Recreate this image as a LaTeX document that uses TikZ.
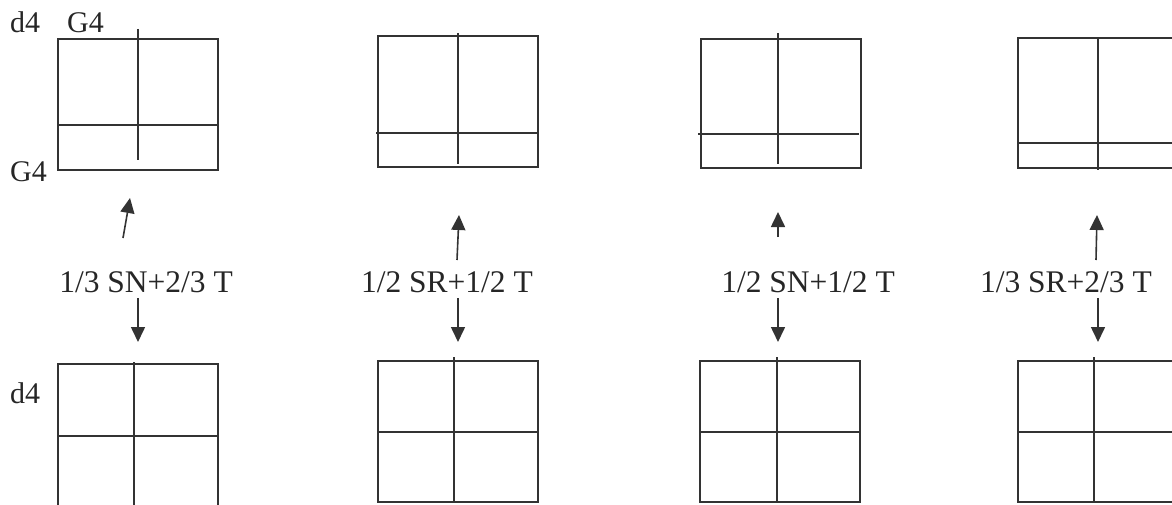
\documentclass[tikz,border=0pt]{standalone}
\usepackage{fontspec}
\setmainfont{Liberation Serif}
\usetikzlibrary{arrows.meta}

\begin{document}
\begin{tikzpicture}[
        x=1pt, y=-1pt,
        frame/.style={line width=1.6pt, draw=black!80},
        arrow/.style={line width=1.6pt, draw=black!80, -{Triangle[length=15pt, width=14pt]}},
        mix/.style={font=\fontsize{31.5}{38}\selectfont, inner sep=0pt, text=black!85, anchor=base east},
        side/.style={font=\fontsize{30}{36}\selectfont, inner sep=0pt, text=black!85, anchor=base west}
    ]
    \useasboundingbox (0,0) rectangle (1172,505);
    \clip (0,0) rectangle (1172,505);

    % Top row
    \draw[frame] (58,39) rectangle (218,170);
    \draw[frame] (58,125) -- (218,125);
    \draw[frame] (138,29) -- (138,160);

    \draw[frame] (378,36) rectangle (538,167);
    \draw[frame] (376,133) -- (537,133);
    \draw[frame] (458,33) -- (458,164);

    \draw[frame] (701,39) rectangle (861,168);
    \draw[frame] (698,134) -- (859,134);
    \draw[frame] (778,33) -- (778,164);

    \draw[frame] (1018,38) rectangle (1178,168);
    \draw[frame] (1018,143) -- (1178,143);
    \draw[frame] (1098,38) -- (1098,170);

    % Bottom row
    \draw[frame] (58,510) |- (218,364) -- (218,510);
    \draw[frame] (58,436) -- (218,436);
    \draw[frame] (134,362) -- (134,510);
    \foreach \l/\v in {378/454,700/777,1018/1094} {
        \draw[frame] (\l,361) rectangle (\l+160,502);
        \draw[frame] (\l,432) -- (\l+160,432);
        \draw[frame] (\v,357) -- (\v,502);
    }

    % Side labels
    \node[side] (d4top) at (10,33) {d4};
    \node[side] (g4top) at (67,33) {G4};
    \node[side] (g4left) at (10,182) {G4};
    \node[side] (d4left) at (10,403) {d4};

    % Mixture labels (placed by their right end)
    \node[mix] (w1) at (233,292) {1/3 SN+2/3 T};
    \node[mix] (w2) at (533,292) {1/2 SR+1/2 T};
    \node[mix] (w3) at (895,292) {1/2 SN+1/2 T};
    \node[mix] (w4) at (1152,292) {1/3 SR+2/3 T};

    % Arrows
    \foreach \i/\xa/\ya/\xb/\yb in {1/123/238/130/198,2/457/260/459/215,3/778/237/778/212,4/1096/260/1097/215} {
        \coordinate (us\i) at (\xa,\ya);
        \coordinate (ut\i) at (\xb,\yb);
    }
    \foreach \i/\x in {1/138,2/458,3/778,4/1098} {
        \coordinate (ds\i) at (\x,298);
        \coordinate (dt\i) at (\x,342);
    }
    \foreach \i in {1,2,3,4} {
        \draw[arrow] (us\i) -- (ut\i);
        \draw[arrow] (ds\i) -- (dt\i);
    }

\end{tikzpicture}
\end{document}
